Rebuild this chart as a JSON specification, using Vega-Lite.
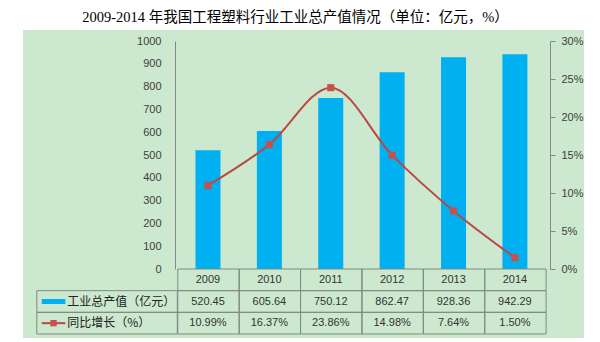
{
  "$schema": "https://vega.github.io/schema/vega-lite/v6.json",
  "width": 561,
  "height": 308,
  "autosize": {"type": "none"},
  "padding": {"left": 23, "top": 30, "right": 16, "bottom": 4},
  "background": "#FFFFFF",
  "title": {
    "text": "2009-2014 年我国工程塑料行业工业总产值情况（单位：亿元，%）",
    "font": "Liberation Serif, Noto Sans CJK SC",
    "fontSize": 14.5,
    "fontWeight": "normal",
    "color": "#000000",
    "anchor": "middle",
    "frame": "group",
    "offset": 5,
    "dx": -8
  },
  "config": {
    "view": {"fill": "#CCE8CF", "stroke": null},
    "axis": {"labelColor": "#404040", "labelFont": "Liberation Sans", "labelFontSize": 11, "domainColor": "#868686", "tickColor": "#868686", "grid": false, "title": null}
  },
  "datasets": {
    "d": [
      {"year": 2009, "value": 520.45, "growth": 0.1099},
      {"year": 2010, "value": 605.64, "growth": 0.1637},
      {"year": 2011, "value": 750.12, "growth": 0.2386},
      {"year": 2012, "value": 862.47, "growth": 0.1498},
      {"year": 2013, "value": 928.36, "growth": 0.0764},
      {"year": 2014, "value": 942.29, "growth": 0.015}
    ],
    "leg": [
      {"row": "value", "label": "工业总产值（亿元）"},
      {"row": "growth", "label": "同比增长（%）"}
    ]
  },
  "layer": [
    {
      "data": {"name": "d"},
      "mark": {"type": "bar", "width": 25, "color": "#00B0F0", "orient": "vertical"},
      "encoding": {
        "x": {"field": "year", "type": "quantitative", "scale": {"domain": [2006.068, 2015.044], "nice": false, "zero": false}, "axis": null},
        "y": {
          "field": "value", "type": "quantitative",
          "scale": {"domain": [0, 1000], "range": [239, 11], "nice": false, "zero": true},
          "axis": {"orient": "left", "offset": -152, "values": [0, 100, 200, 300, 400, 500, 600, 700, 800, 900, 1000], "format": "d", "ticks": false, "labelPadding": 14}
        }
      }
    },
    {
      "data": {"name": "d"},
      "encoding": {
        "x": {"field": "year", "type": "quantitative", "scale": {"domain": [2006.068, 2015.044], "nice": false, "zero": false}, "axis": null},
        "y": {
          "field": "growth", "type": "quantitative",
          "scale": {"domain": [0, 0.3], "range": [239, 11], "nice": false, "zero": true},
          "axis": {"orient": "right", "offset": -34, "values": [0, 0.05, 0.1, 0.15, 0.2, 0.25, 0.3], "format": ".0%", "tickSize": 5, "labelPadding": 6}
        }
      },
      "layer": [
        {"mark": {"type": "line", "interpolate": "monotone", "color": "#BA4843", "strokeWidth": 2}},
        {"mark": {"type": "point", "shape": "square", "filled": true, "size": 50, "color": "#C8504B", "opacity": 1}}
      ]
    },
    {
      "encoding": {
        "y": {"field": "row", "type": "nominal", "scale": {"domain": ["year", "value", "growth"], "range": [239, 304], "paddingInner": 0, "paddingOuter": 0}, "axis": null}
      },
      "layer": [
        {
          "data": {"name": "d"},
          "transform": [{"fold": ["year", "value", "growth"], "as": ["row", "v"]}],
          "mark": {"type": "rect", "fill": null, "fillOpacity": 0, "stroke": "#7F8A80", "strokeWidth": 1},
          "encoding": {
            "x": {"field": "year", "type": "quantitative", "bin": {"step": 1, "extent": [2008.5, 2014.5], "nice": false}, "scale": {"domain": [2006.068, 2015.044], "nice": false, "zero": false}, "axis": null}
          }
        },
        {
          "data": {"name": "d"},
          "mark": {"type": "text", "font": "Liberation Sans", "fontSize": 11, "color": "#333333"},
          "encoding": {
            "x": {"field": "year", "type": "quantitative", "scale": {"domain": [2006.068, 2015.044], "nice": false, "zero": false}, "axis": null},
            "y": {"datum": "year", "type": "nominal"},
            "text": {"field": "year", "type": "ordinal"}
          }
        },
        {
          "data": {"name": "d"},
          "mark": {"type": "text", "font": "Liberation Sans", "fontSize": 11, "color": "#333333"},
          "encoding": {
            "x": {"field": "year", "type": "quantitative", "scale": {"domain": [2006.068, 2015.044], "nice": false, "zero": false}, "axis": null},
            "y": {"datum": "value", "type": "nominal"},
            "text": {"field": "value", "type": "quantitative", "format": ".2f"}
          }
        },
        {
          "data": {"name": "d"},
          "mark": {"type": "text", "font": "Liberation Sans", "fontSize": 11, "color": "#333333"},
          "encoding": {
            "x": {"field": "year", "type": "quantitative", "scale": {"domain": [2006.068, 2015.044], "nice": false, "zero": false}, "axis": null},
            "y": {"datum": "growth", "type": "nominal"},
            "text": {"field": "growth", "type": "quantitative", "format": ".2%"}
          }
        },
        {
          "data": {"name": "leg"},
          "mark": {"type": "rect", "fill": null, "fillOpacity": 0, "stroke": "#7F8A80", "strokeWidth": 1},
          "encoding": {
            "x": {"datum": 2006.212, "type": "quantitative"},
            "x2": {"datum": 2008.5},
            "y": {"field": "row", "type": "nominal"}
          }
        },
        {
          "data": {"name": "leg"},
          "mark": {"type": "text", "align": "left", "font": "Noto Sans CJK SC", "fontSize": 12, "color": "#222222"},
          "encoding": {
            "x": {"datum": 2006.708, "type": "quantitative"},
            "y": {"field": "row", "type": "nominal"},
            "text": {"field": "label", "type": "nominal"}
          }
        },
        {
          "data": {"name": "leg"},
          "transform": [{"filter": "datum.row === 'value'"}],
          "mark": {"type": "rule", "color": "#00B0F0", "strokeWidth": 5},
          "encoding": {
            "x": {"datum": 2006.292, "type": "quantitative"},
            "x2": {"datum": 2006.676},
            "y": {"field": "row", "type": "nominal"}
          }
        },
        {
          "data": {"name": "leg"},
          "transform": [{"filter": "datum.row === 'growth'"}],
          "mark": {"type": "rule", "color": "#BA4843", "strokeWidth": 2},
          "encoding": {
            "x": {"datum": 2006.292, "type": "quantitative"},
            "x2": {"datum": 2006.676},
            "y": {"field": "row", "type": "nominal"}
          }
        },
        {
          "data": {"name": "leg"},
          "transform": [{"filter": "datum.row === 'growth'"}],
          "mark": {"type": "point", "shape": "square", "filled": true, "size": 40, "color": "#C8504B", "opacity": 1},
          "encoding": {
            "x": {"datum": 2006.484, "type": "quantitative"},
            "y": {"field": "row", "type": "nominal"}
          }
        }
      ]
    }
  ],
  "resolve": {"scale": {"y": "independent"}}
}
